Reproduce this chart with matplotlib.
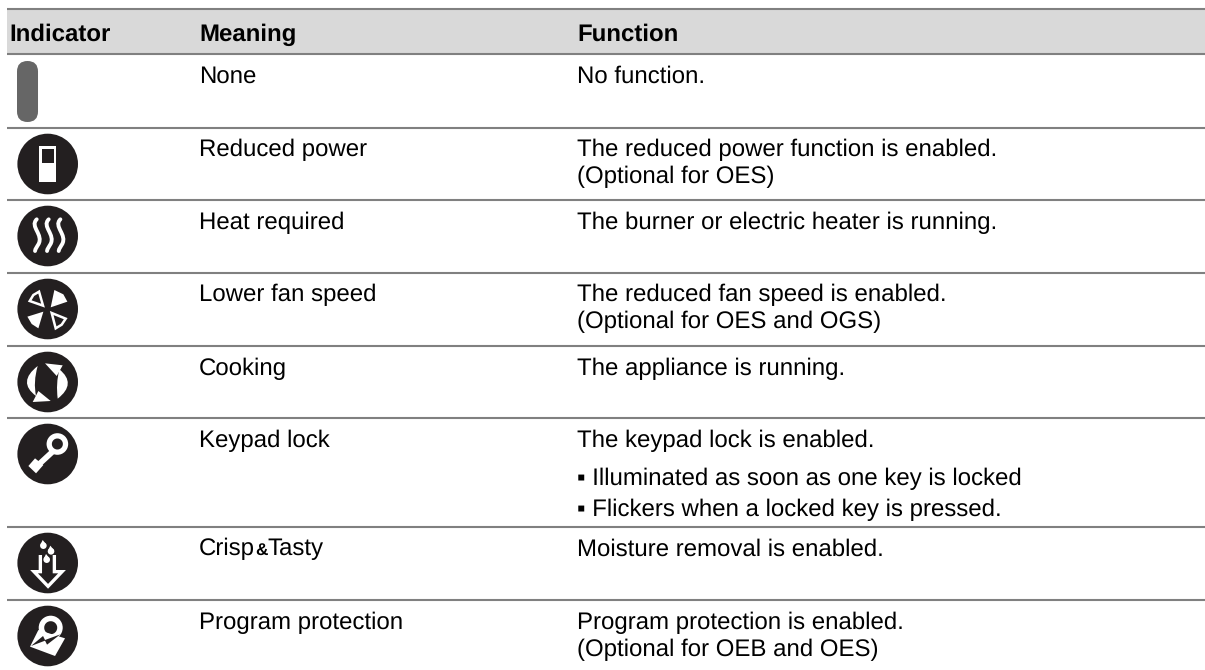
import matplotlib
matplotlib.use('Agg')
import matplotlib.pyplot as plt
from matplotlib.patches import Circle, Polygon, PathPatch, FancyBboxPatch, Rectangle, Wedge
from matplotlib.path import Path

plt.rcParams['font.family'] = ['Liberation Sans', 'DejaVu Sans']
plt.rcParams['text.hinting'] = 'none'

# table content
headers = ['Indicator', 'Meaning', 'Function']
meanings = ['None', 'Reduced power', 'Heat required', 'Lower fan speed', 'Cooking',
            'Keypad lock', 'Crisp&Tasty', 'Program protection']
functions = [['No function.'],
             ['The reduced power function is enabled.', '(Optional for OES)'],
             ['The burner or electric heater is running.'],
             ['The reduced fan speed is enabled.', '(Optional for OES and OGS)'],
             ['The appliance is running.'],
             ['The keypad lock is enabled.'],
             ['Moisture removal is enabled.'],
             ['Program protection is enabled.', '(Optional for OEB and OES)']]
bullets = ['\u25aa Illuminated as soon as one key is locked',
           '\u25aa Flickers when a locked key is pressed.']

# layout in pixels
row_lines = [54, 127.5, 200, 272.5, 346, 418, 526.5, 600]
col_x = [9.5, 199, 577]
DARK = '#231f20'
GREY = '#808080'
INK = '#000000'
FS = 17.25
LINE = 27
CX = 47.7

fig = plt.figure(figsize=(12.05, 6.70), dpi=100)
ax = fig.add_axes([0, 0, 1, 1])
ax.set_xlim(0, 1205)
ax.set_ylim(670, 0)
ax.axis('off')

# header
ax.add_patch(Rectangle((7, 9), 1198, 45, fc='#d9d9d9', ec='none'))
ax.plot([7, 1205], [9, 9], color=GREY, lw=1.5, solid_capstyle='butt')
for x, h in zip(col_x, headers):
    ax.text(x, 40.5, h, fontsize=17.3, fontweight='bold', color='black', va='baseline')

# rows
for y in row_lines:
    ax.plot([7, 1205], [y, y], color=GREY, lw=1.5, solid_capstyle='butt')

for i, (m, fn) in enumerate(zip(meanings, functions)):
    base = row_lines[i] + 28.8
    if m == 'Crisp&Tasty':
        inv = ax.transData.inverted()
        t1 = ax.text(col_x[1], base, 'Crisp', fontsize=FS, va='baseline', color=INK)
        fig.canvas.draw()
        x1 = inv.transform(t1.get_window_extent().get_points())[1][0]
        t2 = ax.text(x1, base, '&', fontsize=FS * 0.72, fontweight='bold', va='baseline', color=INK)
        x2 = inv.transform(t2.get_window_extent().get_points())[1][0]
        ax.text(x2, base, 'Tasty', fontsize=FS, va='baseline', color=INK)
    else:
        ax.text(col_x[1], base, m, fontsize=FS, va='baseline', color=INK)
    for j, line in enumerate(fn):
        ax.text(col_x[2], base + j * LINE, line, fontsize=FS, va='baseline', color=INK)
for y, line in zip([485, 516], bullets):
    ax.text(col_x[2], y, line, fontsize=FS, va='baseline', color=INK)


def disc(cy):
    ax.add_patch(Circle((CX, cy), 30.3, fc=DARK, ec='none', zorder=2))


def poly(pts, cy, fc='white', ec='none', lw=0, closed=True):
    ax.add_patch(Polygon([(CX + a / 3, cy + b / 3) for a, b in pts], closed=closed,
                         fc=fc, ec=ec, lw=lw, zorder=3))


def curve(pts, cy, lw, color='white'):
    verts = [(CX + a / 3, cy + b / 3) for a, b in pts]
    codes = [Path.MOVETO] + [Path.CURVE4] * (len(verts) - 1)
    ax.add_patch(PathPatch(Path(verts, codes), fc='none', ec=color, lw=lw,
                           capstyle='round', zorder=3))


def crescent(a, outer, b, inner, cy):
    verts = [(CX + p / 3, cy + q / 3) for p, q in (a, outer, b, inner, a)]
    codes = [Path.MOVETO, Path.CURVE3, Path.CURVE3, Path.CURVE3, Path.CURVE3]
    ax.add_patch(PathPatch(Path(verts, codes), fc='white', ec='none', zorder=3))


def drop(a, b, cy):
    ax.add_patch(Circle((CX + a / 3, cy + b / 3), 3.3, fc='white', ec='none', zorder=4))
    poly([(a - 9, b - 3), (a - 2, b - 17), (a + 9, b - 3)], cy)


# plain indicator
ax.add_patch(FancyBboxPatch((27.5, 71.5), 0.01, 40, boxstyle='round,pad=10.5',
                            fc='#666666', ec='none', zorder=2))

# reduced power
cy = 164
disc(cy)
poly([(-26, -54), (25, -54), (25, 53), (-26, 53)], cy)
poly([(-17, -46), (19, -46), (19, -2), (-17, -2)], cy, fc=DARK)

# heat
cy = 236
disc(cy)
for dx in (-33, 3, 38):
    curve([(dx, -50), (dx - 22, -28), (dx + 22, -4), (dx + 5, 25),
           (dx + 1, 32), (dx - 4, 38), (dx - 5, 45)], cy, 2.8)

# fan
cy = 309
disc(cy)
poly([(20, -57), (47, -44), (59, -22), (9, -5)], cy)
poly([(-61, 23), (-13, 8), (-28, 58), (-48, 45)], cy)
poly([(-26, -52), (-43, -42), (-54, -24), (-14, -10)], cy, fc=DARK, ec='white', lw=1.8)
poly([(12, 12), (54, 29), (42, 47), (24, 58)], cy, fc=DARK, ec='white', lw=1.8)

# cooking
cy = 382
disc(cy)
crescent((-30, -48), (-92, 0), (-35, 42), (-44, 0), cy)
poly([(-45, 60), (9, 57), (-28, 27)], cy)
crescent((30, 50), (88, 5), (35, -38), (24, 5), cy)
poly([(-8, -56), (45, -50), (27, -18)], cy)

# keypad lock
cy = 454
disc(cy)
ax.add_patch(Wedge((CX + 29 / 3, cy - 10), 10.8, 0, 360, width=5.3, fc='white', ec='none', zorder=3))
poly([(12, -16), (24, -4), (-28, 44), (-40, 32)], cy)
poly([(-38, 13), (-58, 36), (-35, 58), (-13, 33)], cy)

# crisp
cy = 563
disc(cy)
drop(-13, -52, cy)
drop(10, -35, cy)
poly([(-22, -24), (-22, 26), (-41, 26), (1, 70), (43, 26), (20, 26), (20, -24)], cy,
     fc='none', ec='white', lw=2.4, closed=False)
drop(-3, -10, cy)

# program protection
cy = 636
disc(cy)
ax.add_patch(Wedge((CX + 3, cy - 8.3), 12, 0, 360, width=5.5, fc='white', ec='none', zorder=3))
poly([(-28, -18), (-53, 32), (22, 60), (52, 7)], cy)
poly([(-50, 30), (-14, 0), (-8, 12), (38, -5), (-2, 26), (-8, 14)], cy, fc=DARK)

fig.savefig('out.png', dpi=100)
